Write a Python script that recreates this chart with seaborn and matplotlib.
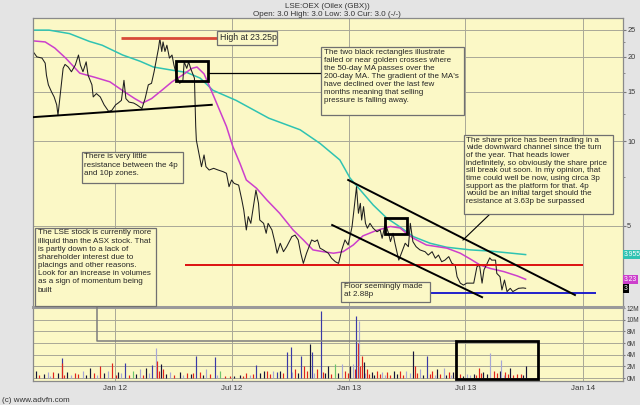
import pandas as pd
import matplotlib
matplotlib.use("Agg")
import matplotlib.pyplot as plt
from matplotlib.lines import Line2D
from matplotlib.patches import Rectangle
from matplotlib.ticker import FixedLocator, NullFormatter
import seaborn as sns

# --- data (pence, daily close) ---
price_dates = [
    "2011-08-26", "2011-09-01", "2011-09-09", "2011-09-14", "2011-09-16", "2011-09-19",
    "2011-09-24", "2011-09-28", "2011-10-02", "2011-10-04", "2011-10-08", "2011-10-12",
    "2011-10-15", "2011-10-20", "2011-10-25", "2011-10-31", "2011-11-05", "2011-11-08",
    "2011-11-12", "2011-11-17", "2011-11-20", "2011-11-26", "2011-11-28", "2011-12-03",
    "2011-12-09", "2011-12-15", "2011-12-22", "2011-12-27", "2012-01-02", "2012-01-06",
    "2012-01-11", "2012-01-15", "2012-01-18", "2012-01-23", "2012-01-30", "2012-02-04",
    "2012-02-12", "2012-02-17", "2012-02-22", "2012-02-27", "2012-03-02", "2012-03-06",
    "2012-03-09", "2012-03-11", "2012-03-14", "2012-03-16", "2012-03-19", "2012-03-22",
    "2012-03-26", "2012-03-30", "2012-04-02", "2012-04-06", "2012-04-11", "2012-04-16",
    "2012-04-18", "2012-04-22", "2012-04-25", "2012-04-28", "2012-05-01", "2012-05-04",
    "2012-05-06", "2012-05-07", "2012-05-10", "2012-05-13", "2012-05-15", "2012-05-19",
    "2012-05-22", "2012-05-27", "2012-06-03", "2012-06-10", "2012-06-18", "2012-06-23",
    "2012-06-27", "2012-07-01", "2012-07-05", "2012-07-12", "2012-07-17", "2012-07-20",
    "2012-07-24", "2012-07-27", "2012-07-31", "2012-08-04", "2012-08-08", "2012-08-12",
    "2012-08-14", "2012-08-20", "2012-08-24", "2012-08-27", "2012-09-02", "2012-09-07",
    "2012-09-10", "2012-09-15", "2012-09-20", "2012-09-25", "2012-10-03", "2012-10-08",
    "2012-10-13", "2012-10-17", "2012-10-21", "2012-10-26", "2012-11-03", "2012-11-08",
    "2012-11-12", "2012-11-16", "2012-11-21", "2012-11-29", "2012-12-04", "2012-12-10",
    "2012-12-15", "2012-12-20", "2012-12-25", "2012-12-30", "2013-01-05", "2013-01-08",
    "2013-01-12", "2013-01-15", "2013-01-18", "2013-01-20", "2013-01-23", "2013-01-26",
    "2013-01-29", "2013-02-02", "2013-02-07", "2013-02-13", "2013-02-18", "2013-02-21",
    "2013-02-26", "2013-03-03", "2013-03-06", "2013-03-10", "2013-03-13", "2013-03-19",
    "2013-03-24", "2013-03-29", "2013-04-03", "2013-04-06", "2013-04-10", "2013-04-15",
    "2013-04-21", "2013-04-29", "2013-05-04", "2013-05-10", "2013-05-15", "2013-05-20",
    "2013-05-25", "2013-05-30", "2013-06-05", "2013-06-10", "2013-06-15", "2013-06-18",
    "2013-06-23", "2013-06-28", "2013-07-03", "2013-07-09", "2013-07-14", "2013-07-19",
    "2013-07-23", "2013-07-27", "2013-07-30", "2013-08-04", "2013-08-08", "2013-08-11",
    "2013-08-17", "2013-08-19", "2013-08-24", "2013-08-27", "2013-08-31", "2013-09-04",
    "2013-09-09", "2013-09-13", "2013-09-22", "2013-09-29", "2013-10-03",
]
price_close = [
    20.9, 20.0, 19.8, 19.0, 17.2, 15.9,
    15.0, 14.4, 13.5, 12.4, 15.0, 18.2,
    18.8, 18.4, 17.7, 18.7, 20.3, 18.7,
    17.7, 19.2, 17.2, 15.9, 14.4, 14.8,
    14.4, 13.5, 12.8, 12.9, 13.5, 13.7,
    14.0, 16.5, 14.2, 13.8, 13.7, 13.5,
    13.1, 14.2, 15.9, 16.1, 17.7, 19.8,
    21.5, 23.25, 20.9, 22.6, 20.9, 22.0,
    19.8, 20.3, 18.7, 17.2, 16.1, 16.5,
    19.2, 18.2, 19.2, 18.2, 17.5, 16.8,
    11.3, 10.1, 9.3, 8.6, 8.13, 8.95,
    8.13, 7.91, 8.02, 7.91, 7.8, 7.7,
    6.9, 7.29, 7.09, 6.99, 6.19, 5.70,
    4.84, 5.40, 5.11, 5.86, 6.71, 6.02,
    5.25, 5.11, 4.71, 5.11, 4.84, 4.34,
    4.00, 4.34, 4.05, 4.22, 4.58, 4.64,
    4.46, 4.00, 3.68, 4.00, 4.46, 4.40,
    4.46, 4.17, 4.11, 4.00, 3.84, 3.73,
    3.68, 4.11, 4.46, 4.28, 4.97, 5.70,
    6.90, 5.55, 6.02, 5.25, 5.86, 5.11,
    4.91, 5.11, 4.91, 4.77, 4.84, 4.52,
    5.11, 4.71, 4.40, 4.71, 4.34, 3.78,
    4.05, 4.34, 4.22, 5.11, 4.40, 4.22,
    4.11, 4.05, 3.94, 4.05, 3.84, 3.94,
    3.73, 3.78, 3.89, 3.68, 3.63, 3.30,
    3.13, 3.08, 3.13, 3.13, 3.13, 3.58,
    3.63, 3.13, 3.49, 3.68, 3.85, 3.78,
    3.78, 3.39, 3.30, 2.96, 3.21, 2.92,
    3.00, 2.92, 3.00, 3.01, 3.00,
]

ma200_dates = [
    "2011-08-26", "2011-09-20", "2011-10-22", "2011-11-22", "2011-12-12", "2012-01-13",
    "2012-02-09", "2012-03-01", "2012-04-01", "2012-04-22", "2012-05-13", "2012-06-02",
    "2012-07-08", "2012-08-28", "2012-10-16", "2012-11-16", "2012-12-17", "2013-01-02",
    "2013-01-18", "2013-02-07", "2013-02-28", "2013-03-21", "2013-04-11", "2013-05-07",
    "2013-06-02", "2013-07-09", "2013-08-09", "2013-10-03",
]
ma200_vals = [
    24.9, 24.9, 24.2, 22.7, 22.0, 20.3,
    19.3, 18.4, 17.9, 17.6, 16.8, 15.2,
    14.0, 12.1, 11.0, 9.84, 8.59, 7.4,
    6.71, 5.94, 5.34, 4.96, 4.58, 4.34,
    4.20, 4.11, 4.07, 3.955,
]

ma50_dates = [
    "2011-08-26", "2011-09-14", "2011-09-29", "2011-10-16", "2011-11-07", "2011-12-01",
    "2011-12-24", "2012-01-16", "2012-02-01", "2012-02-13", "2012-02-27", "2012-03-14",
    "2012-03-30", "2012-04-15", "2012-04-30", "2012-05-08", "2012-05-19", "2012-06-03",
    "2012-06-23", "2012-07-03", "2012-07-14", "2012-07-24", "2012-08-09", "2012-08-25",
    "2012-09-14", "2012-10-05", "2012-10-21", "2012-11-05", "2012-11-21", "2012-12-07",
    "2012-12-22", "2013-01-07", "2013-01-22", "2013-02-12", "2013-03-06", "2013-03-21",
    "2013-03-31", "2013-04-11", "2013-05-01", "2013-06-02", "2013-06-23", "2013-07-09",
    "2013-07-24", "2013-08-09", "2013-08-30", "2013-09-20", "2013-10-03",
]
ma50_vals = [
    22.8, 22.6, 21.5, 19.8, 17.5, 16.9,
    16.3, 15.0, 14.2, 13.7, 14.2, 15.2,
    16.3, 17.2, 18.2, 18.4, 17.4, 14.5,
    11.3, 9.58, 8.36, 7.29, 6.81, 6.19,
    5.55, 4.84, 4.46, 4.11, 4.05, 4.00,
    4.05, 4.28, 4.61, 4.82, 4.98, 4.92,
    4.71, 4.52, 4.28, 4.17, 4.00, 3.81,
    3.63, 3.53, 3.44, 3.32, 3.23,
]

# volume in millions of shares, tone = bar colour class
vol_dates = [
    "2011-08-31", "2011-09-18", "2011-09-26", "2011-10-10", "2011-10-11", "2011-10-18",
    "2011-10-31", "2011-11-12", "2011-11-23", "2011-12-09", "2011-12-21", "2011-12-28",
    "2012-01-06", "2012-01-17", "2012-01-29", "2012-02-09", "2012-02-19", "2012-02-28",
    "2012-03-05", "2012-03-06", "2012-03-13", "2012-03-16", "2012-03-27", "2012-04-11",
    "2012-04-22", "2012-05-06", "2012-05-13", "2012-05-22", "2012-06-05", "2012-06-13",
    "2012-06-28", "2012-07-14", "2012-07-24", "2012-08-08", "2012-08-20", "2012-08-25",
    "2012-09-04", "2012-09-15", "2012-09-26", "2012-10-01", "2012-10-08", "2012-10-18",
    "2012-10-22", "2012-10-31", "2012-11-03", "2012-11-11", "2012-11-17", "2012-11-20",
    "2012-11-28", "2012-12-10", "2012-12-20", "2012-12-25", "2013-01-02", "2013-01-06",
    "2013-01-11", "2013-01-14", "2013-01-16", "2013-01-20", "2013-01-23", "2013-01-28",
    "2013-02-05", "2013-02-13", "2013-02-21", "2013-02-28", "2013-03-11", "2013-03-21",
    "2013-03-31", "2013-04-10", "2013-04-13", "2013-04-21", "2013-05-02", "2013-05-10",
    "2013-05-17", "2013-05-28", "2013-06-05", "2013-06-12", "2013-06-23", "2013-07-03",
    "2013-07-14", "2013-07-22", "2013-07-29", "2013-08-09", "2013-08-14", "2013-08-24",
    "2013-08-26", "2013-09-01", "2013-09-09", "2013-09-20", "2013-09-25", "2013-10-03",
]
vol_millions = [
    1.25, 0.97, 1.1, 3.5, 2.6, 1.0,
    0.9, 1.25, 1.8, 2.0, 1.25, 2.6,
    1.0, 2.6, 1.25, 1.5, 1.8, 2.2,
    5.1, 3.0, 2.4, 1.5, 1.0, 1.0,
    0.9, 3.8, 1.0, 1.5, 3.7, 1.25,
    0.4, 0.5, 0.9, 2.2, 1.25, 1.25,
    1.25, 1.25, 4.5, 5.4, 1.5, 3.8,
    2.1, 5.8, 4.5, 1.5, 11.5, 1.0,
    2.1, 2.4, 2.4, 1.25, 2.1, 2.4,
    10.7, 6.1, 9.8, 3.8, 2.7, 1.5,
    1.0, 1.25, 1.0, 1.0, 1.25, 1.25,
    1.25, 4.7, 2.1, 1.6, 3.8, 1.25,
    1.5, 1.8, 1.0, 1.0, 0.7, 0.7,
    0.7, 1.8, 1.0, 4.3, 1.25, 1.25,
    3.1, 1.0, 1.8, 0.7, 0.7, 2.0,
]
vol_tone = [
    "k", "l", "r", "b", "r", "k",
    "r", "l", "k", "r", "l", "r",
    "k", "b", "g", "l", "k", "b",
    "l", "r", "k", "r", "l", "k",
    "r", "b", "r", "l", "b", "g",
    "r", "k", "r", "b", "k", "r",
    "l", "k", "b", "b", "r", "b",
    "r", "k", "b", "r", "b", "r",
    "k", "g", "l", "r", "k", "l",
    "b", "r", "l", "r", "k", "r",
    "k", "r", "l", "r", "k", "r",
    "l", "k", "r", "l", "b", "r",
    "k", "l", "r", "k", "r", "l",
    "k", "r", "k", "l", "r", "k",
    "l", "r", "k", "r", "r", "k",
]
# the many small sessions between the visible spikes
small_vol_dates = [
    "2011-09-05", "2011-09-12", "2011-09-22", "2011-10-04", "2011-10-14", "2011-10-25",
    "2011-11-04", "2011-11-17", "2011-11-29", "2011-12-04", "2011-12-15", "2012-01-02",
    "2012-01-11", "2012-01-23", "2012-02-03", "2012-02-14", "2012-02-23", "2012-03-09",
    "2012-03-21", "2012-04-02", "2012-04-16", "2012-04-28", "2012-05-02", "2012-05-17",
    "2012-05-28", "2012-06-09", "2012-06-20", "2012-07-05", "2012-07-19", "2012-07-30",
    "2012-08-03", "2012-08-14", "2012-08-30", "2012-09-10", "2012-09-20", "2012-10-04",
    "2012-10-13", "2012-10-26", "2012-11-07", "2012-11-24", "2012-12-03", "2012-12-14",
    "2012-12-30", "2013-01-09", "2013-01-18", "2013-01-25", "2013-02-01", "2013-02-09",
    "2013-02-17", "2013-02-25", "2013-03-06", "2013-03-16", "2013-03-26", "2013-04-05",
    "2013-04-17", "2013-04-26", "2013-05-06", "2013-05-14", "2013-05-22", "2013-06-01",
    "2013-06-08", "2013-06-17", "2013-06-28", "2013-07-08", "2013-07-18", "2013-07-25",
    "2013-08-04", "2013-08-19", "2013-08-30", "2013-09-05", "2013-09-14", "2013-09-29",
]
small_vol_millions = [
    0.5, 0.7, 0.4, 0.8, 0.6, 0.5,
    0.7, 0.6, 0.9, 0.5, 0.8, 0.6,
    0.9, 0.5, 0.7, 0.6, 0.8, 1.2,
    0.7, 0.6, 0.5, 0.7, 0.9, 0.6,
    0.7, 0.5, 0.4, 0.3, 0.4, 0.6,
    0.7, 0.9, 0.7, 1.0, 0.8, 1.1,
    0.9, 1.2, 0.8, 0.9, 0.7, 0.8,
    0.9, 1.5, 2.0, 0.9, 0.7, 0.6,
    0.7, 0.5, 0.6, 0.7, 0.5, 0.8,
    0.9, 0.6, 0.7, 0.6, 0.7, 0.5,
    0.6, 0.5, 0.4, 0.5, 0.6, 0.8,
    0.7, 0.9, 0.6, 0.7, 0.6, 0.5,
]
small_vol_tone = [
    "r", "k", "l", "k", "r", "l",
    "r", "k", "r", "l", "k", "r",
    "l", "r", "k", "r", "l", "r",
    "k", "r", "l", "k", "r", "k",
    "r", "l", "r", "k", "r", "l",
    "r", "k", "r", "b", "r", "l",
    "k", "r", "l", "k", "r", "k",
    "r", "r", "r", "l", "r", "k",
    "r", "l", "r", "k", "r", "l",
    "r", "k", "r", "l", "r", "k",
    "l", "r", "k", "l", "r", "r",
    "k", "r", "l", "r", "r", "k",
]

price_ticks = [5, 10, 15, 20, 25]
price_minor = [7.5, 12.5, 17.5, 22.5]
vol_ticks = [0, 2, 4, 6, 8, 10, 12]
month_ticks = ["2012-01-01", "2012-07-01", "2013-01-01", "2013-07-01", "2014-01-01"]
month_labels = ["Jan 12", "Jul 12", "Jan 13", "Jul 13", "Jan 14"]

high_price = 23.25
resist_price = 3.63
floor_price = 2.88
last_ma200 = 3.955
last_ma50 = 3.23
last_close = 3

# --- styling ---
plt.rcParams["font.family"] = ["Liberation Sans", "DejaVu Sans"]
panel_bg = "#fbf8c6"
grid_c = "#a9a897"
teal = "#2fc3b2"
magenta = "#cc3fcc"
tone_colors = {"r": "#e0241c", "k": "#14143a", "b": "#3a3aa8", "l": "#a6a6d6", "g": "#6cc46c"}
fs = 5.8
tick_fs = 5.3

W, H = 640, 405
fig = plt.figure(figsize=(6.4, 4.05), dpi=100)
fig.patch.set_facecolor("#e4e4e4")


def fx(px):
    return px / W


def fy(py):
    return 1 - py / H


ax = fig.add_axes([fx(33), fy(307), fx(623) - fx(33), fy(18) - fy(307)])
axv = fig.add_axes([fx(33), fy(381), fx(623) - fx(33), fy(307) - fy(381)], sharex=ax)

pdates = pd.to_datetime(price_dates)
sns.lineplot(x=pd.to_datetime(ma200_dates), y=ma200_vals, ax=ax, color=teal, linewidth=1.1)
sns.lineplot(x=pd.to_datetime(ma50_dates), y=ma50_vals, ax=ax, color=magenta, linewidth=1.1)
sns.lineplot(x=pdates, y=price_close, ax=ax, color="#1e1e1e", linewidth=0.75)

ax.set_yscale("log")
ax.set_ylim(2.574, 27.5)
ax.set_xlim(pd.Timestamp("2011-08-26"), pd.Timestamp("2014-03-04"))

for a in (ax, axv):
    a.set_facecolor(panel_bg)
    for s in a.spines.values():
        s.set_color("#8a8a8a")
        s.set_linewidth(0.9)
    a.yaxis.tick_right()
    a.tick_params(axis="y", which="both", direction="out", length=2, color="#7a7a7a",
                  labelsize=tick_fs, labelcolor="#3a3a3a", pad=1)
    a.set_xlabel("")
    a.set_ylabel("")

ax.yaxis.set_major_locator(FixedLocator(price_ticks))
ax.set_yticklabels([str(t) for t in price_ticks])
ax.yaxis.set_minor_locator(FixedLocator(price_minor))
ax.yaxis.set_minor_formatter(NullFormatter())
ax.tick_params(axis="y", which="minor", length=1.5)
ax.set_xticks(pd.to_datetime(month_ticks))
ax.tick_params(axis="x", length=0, labelbottom=False)
ax.grid(True, which="major", color=grid_c, linewidth=0.7)

# volume panel
all_vd = pd.to_datetime(small_vol_dates + vol_dates)
all_vv = small_vol_millions + vol_millions
all_vc = [tone_colors[t] for t in small_vol_tone + vol_tone]
axv.vlines(all_vd, 0, all_vv, colors=all_vc, linewidth=0.85)
axv.set_ylim(-0.5, 12.2)
axv.set_yticks(vol_ticks)
axv.set_yticklabels([f"{v}M" for v in vol_ticks])
axv.tick_params(axis="y", labelsize=4.7, length=1.5, pad=1.2)
axv.set_xticks(pd.to_datetime(month_ticks))
axv.set_xticklabels(month_labels)
axv.tick_params(axis="x", length=0, labelsize=fs, labelcolor="#3a3a3a", pad=3)
axv.grid(True, color=grid_c, linewidth=0.7)
axv.set_xlim(pd.Timestamp("2011-08-26"), pd.Timestamp("2014-03-04"))

fig.add_artist(Line2D([fx(33), fx(623)], [fy(307), fy(307)], transform=fig.transFigure,
                      color="#9a9a9a", linewidth=2.2, zorder=3))

# last value flags on the right axis
flags = [(last_ma200, "3.955", teal, "white"), (last_ma50, "3.23", magenta, "white"),
         (last_close, "3", "black", "white")]
for val, lab, bg, fg in flags:
    ax.text(1.002, val, lab, transform=ax.get_yaxis_transform(), ha="left", va="center",
            fontsize=4.9, color=fg, clip_on=False,
            bbox=dict(boxstyle="square,pad=0.12", facecolor=bg, edgecolor="none"))

# --- annotations ---
tr = pd.Timestamp
ax.hlines(high_price, tr("2012-01-10"), tr("2012-06-08"), color="#d84a38", linewidth=2.0, zorder=4)
ax.hlines(resist_price, tr("2012-04-20"), tr("2014-01-01"), color="#dd1010", linewidth=1.4, zorder=4)
ax.hlines(floor_price, tr("2013-05-07"), tr("2014-01-21"), color="#1010cc", linewidth=1.3, zorder=4)

# support and channel lines
ax.plot([tr("2011-08-26"), tr("2012-05-31")], [12.2, 13.5], color="black", linewidth=1.4, zorder=4)
ax.plot([tr("2012-12-30"), tr("2013-12-19")], [7.29, 2.84], color="black", linewidth=1.4, zorder=4)
ax.plot([tr("2012-12-05"), tr("2013-07-27")], [5.04, 2.79], color="black", linewidth=1.4, zorder=4)


def box(x0, y0, x1, y1, lw=2.0, ec="black"):
    fig.add_artist(Rectangle((fx(x0), fy(y1)), fx(x1) - fx(x0), fy(y0) - fy(y1),
                             transform=fig.transFigure, fill=False, edgecolor=ec,
                             linewidth=lw, zorder=6))


def seg(xs, ys, color="black", lw=0.8):
    fig.add_artist(Line2D([fx(v) for v in xs], [fy(v) for v in ys], transform=fig.transFigure,
                          color=color, linewidth=lw, zorder=5))


def note(x0, y0, x1, y1, text, size=fs, ls=1.23, va="top"):
    fig.add_artist(Rectangle((fx(x0), fy(y1)), fx(x1) - fx(x0), fy(y0) - fy(y1),
                             transform=fig.transFigure, facecolor=panel_bg, edgecolor="#707070",
                             linewidth=0.9, zorder=7))
    if va == "top":
        fig.text(fx(x0 + 2.5), fy(y0 + 1.5), text, ha="left", va="top", fontsize=size,
                 linespacing=ls, color="#262626", zorder=8)
    else:
        fig.text(fx(x0 + 2.5), fy((y0 + y1) / 2), text, ha="left", va="center", fontsize=size,
                 color="#262626", zorder=8)


box(176, 61, 208, 81)
box(385, 218, 407, 234)
box(456, 341, 538, 379)
seg([208, 322], [73, 73], lw=0.9)
seg([490, 463], [214, 240], lw=0.8)
seg([97, 97, 456], [306, 341, 341], color="#7d7d7d", lw=1.1)

note(217, 31, 277, 45, "High at 23.25p", size=6.3, va="center")
note(321, 47, 464, 115,
     "The two black rectangles illustrate\nfailed or near golden crosses where\n"
     "the 50-day MA passes over the\n200-day MA. The gradient of the MA's\n"
     "have declined over the last few\nmonths meaning that selling\n"
     "pressure is falling away.")
note(82, 152, 183, 183,
     "There is very little\nresistance between the 4p\nand 10p zones.")
note(35, 228, 156, 306,
     "The LSE stock is currently more\nilliquid than the ASX stock. That\n"
     "is partly down to a lack of\nshareholder interest due to\n"
     "placings and other reasons.\nLook for an increase in volumes\n"
     "as a sign of momentum being\nbuilt")
note(464, 135, 613, 214,
     "The share price has been trading in a\nwide downward channel since the turn\n"
     "of the year. That heads lower\nindefinitely, so obviously the share price\n"
     "sill break out soon. In my opinion, that\ntime could well be now, using circa 3p\n"
     "support as the platform for that. 4p\nwould be an initial target should the\n"
     "resistance at 3.63p be surpassed", ls=1.14)
note(341, 282, 430, 302, "Floor seemingly made\nat 2.88p", ls=1.1)

# header and footer
fig.text(fx(327), fy(6), "LSE:OEX (Oilex (GBX))", ha="center", va="center", fontsize=fs,
         color="#333333")
fig.text(fx(327), fy(14.5), "Open: 3.0 High: 3.0 Low: 3.0 Cur: 3.0 (-/-)", ha="center",
         va="center", fontsize=fs, color="#333333")
fig.text(fx(2), fy(400), "(c) www.advfn.com", ha="left", va="center", fontsize=fs,
         color="#333333")

fig.savefig("out.png", dpi=100, facecolor=fig.get_facecolor())
